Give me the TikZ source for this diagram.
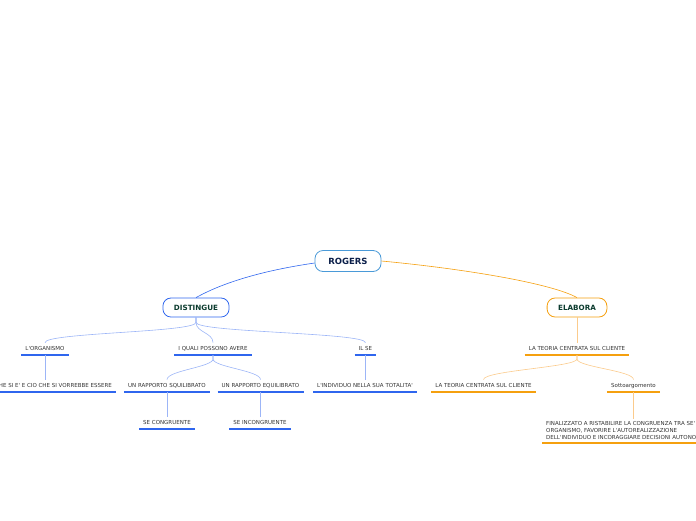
\documentclass[tikz,border=0pt]{standalone}
\usepackage{fontspec}
\newfontfamily\mapfont{DejaVu Sans}
\definecolor{rootblue}{HTML}{4A9AD8}
\definecolor{rootink}{HTML}{0B1F4A}
\definecolor{mainblue}{HTML}{2F66EE}
\definecolor{lineblue}{HTML}{9CB5F7}
\definecolor{mainorange}{HTML}{F5A00F}
\definecolor{lineorange}{HTML}{FBCB8C}
\definecolor{branchink}{HTML}{0B3B2E}
\definecolor{leafink}{HTML}{333333}
\tikzset{
  rootbox/.style={draw=rootblue, line width=0.8pt, rounded corners=8pt, fill=white,
    minimum width=66, minimum height=21, text=rootink,
    font=\mapfont\fontsize{8.5}{9}\selectfont\bfseries},
  branchbox/.style={draw=#1, line width=0.8pt, rounded corners=8pt, fill=white,
    minimum height=19, inner xsep=11pt, text=branchink,
    font=\mapfont\fontsize{7.2}{8}\selectfont\bfseries},
  leaf/.style={inner xsep=4pt, inner ysep=0pt, minimum height=12, text height=4pt,
    text depth=0pt, text=leafink, font=\mapfont\fontsize{5.5}{7}\selectfont,
    append after command={(\tikzlastnode.south west) edge[draw=#1, line width=1.1pt]
      (\tikzlastnode.south east)}},
  twig/.style={draw=#1, line width=0.6pt}
}
\begin{document}
\begin{tikzpicture}[x=1pt, y=-1pt]
  \useasboundingbox (0,0) rectangle (696,520);

  % radice e rami principali
  \node[rootbox] (rogers) at (348,261) {ROGERS};
  \node[branchbox=mainblue] (distingue) at (196,307.5) {DISTINGUE};
  \node[branchbox=mainorange] (elabora) at (577,307.5) {ELABORA};
  \draw[twig=mainblue] ([yshift=-2]rogers.west) .. controls +(-55,8) and +(25,-14) .. (distingue.north);
  \draw[twig=mainorange] (rogers.east) .. controls +(85,8) and +(-25,-14) .. (elabora.north);

  % DISTINGUE: secondo livello
  \node[leaf=mainblue, anchor=south] (organismo) at (45,355) {L'ORGANISMO};
  \node[leaf=mainblue, anchor=south] (quali) at (213,355) {I QUALI POSSONO AVERE};
  \node[leaf=mainblue, anchor=south] (ilse) at (365.5,355) {IL SE};
  \foreach \child in {organismo, quali, ilse}
    \draw[twig=lineblue] (distingue.south) -- ++(0,5) .. controls +(0,10) and +(0,-10) .. (\child.north);

  % DISTINGUE: terzo livello
  \node[leaf=mainblue, anchor=south east] (essere) at (116,392) {CHE SI E' E CIO CHE SI VORREBBE ESSERE};
  \node[leaf=mainblue, anchor=south] (squilibrato) at (167,392) {UN RAPPORTO SQUILIBRATO};
  \node[leaf=mainblue, anchor=south] (equilibrato) at (260.5,392) {UN RAPPORTO EQUILIBRATO};
  \node[leaf=mainblue, anchor=south] (totalita) at (365,392) {L'INDIVIDUO NELLA SUA TOTALITA'};
  \draw[twig=lineblue] (organismo.south) -- (organismo.south |- essere.north);
  \draw[twig=lineblue] (ilse.south) -- (ilse.south |- totalita.north);
  \foreach \child in {squilibrato, equilibrato}
    \draw[twig=lineblue] (quali.south) -- ++(0,4) .. controls +(0,8) and +(0,-9) .. (\child.north);

  % DISTINGUE: quarto livello
  \node[leaf=mainblue, anchor=south] (congruente) at (167,429) {SE CONGRUENTE};
  \node[leaf=mainblue, anchor=south] (incongruente) at (260,429) {SE INCONGRUENTE};
  \draw[twig=lineblue] (squilibrato.south) -- (squilibrato.south |- congruente.north);
  \draw[twig=lineblue] (equilibrato.south) -- (equilibrato.south |- incongruente.north);

  % ELABORA
  \node[leaf=mainorange, anchor=south] (teoria) at (577,355) {LA TEORIA CENTRATA SUL CLIENTE};
  \node[leaf=mainorange, anchor=south] (cliente) at (483.5,392) {LA TEORIA CENTRATA SUL CLIENTE};
  \node[leaf=mainorange, anchor=south] (sotto) at (633.5,392) {Sottoargomento};
  \draw[twig=lineorange] (elabora.south) -- (teoria.north);
  \foreach \child in {cliente, sotto}
    \draw[twig=lineorange] (teoria.south) -- ++(0,4) .. controls +(0,8) and +(0,-9) .. (\child.north);
  \node[leaf=mainorange, anchor=south west, align=left, text height=19pt, text depth=1pt,
    inner ysep=2pt] (finalizzato) at (542,443)
    {FINALIZZATO A RISTABILIRE LA CONGRUENZA TRA SE' E\\
     ORGANISMO, FAVORIRE L'AUTOREALIZZAZIONE\\
     DELL'INDIVIDUO E INCORAGGIARE DECISIONI AUTONOME};
  \draw[twig=lineorange] (sotto.south) -- (sotto.south |- finalizzato.north);
\end{tikzpicture}
\end{document}
